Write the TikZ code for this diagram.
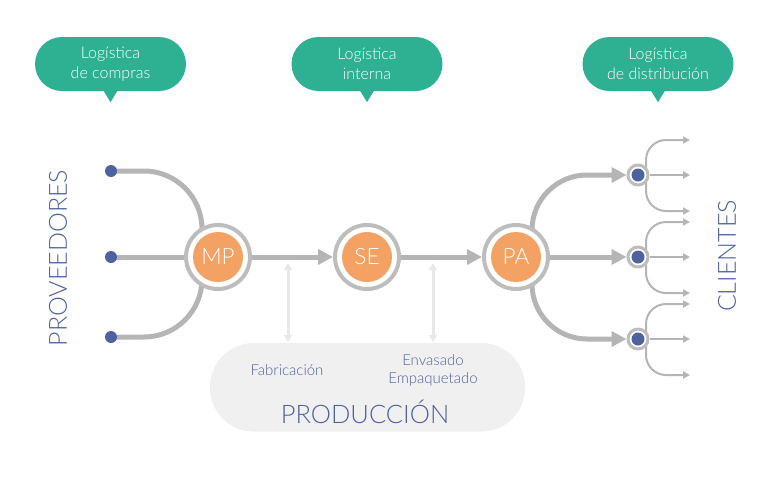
\documentclass[tikz,border=0pt]{standalone}
\usepackage{fontspec}
\setmainfont{Lato}[UprightFont={* Light}]
\usetikzlibrary{arrows.meta,positioning,backgrounds,shadows}
\definecolor{bubblecol}{HTML}{2EB192}
\definecolor{inkblue}{HTML}{4F62A0}
\definecolor{corecol}{HTML}{F4A263}
\definecolor{flowgray}{HTML}{B5B5B5}
\definecolor{ringgray}{HTML}{BDBDBD}
\definecolor{boxgray}{HTML}{F0F0F0}
\definecolor{linkgray}{HTML}{E8E8E8}
\tikzset{
  bubble/.style={rounded corners=27pt, fill=bubblecol, text=white, align=center,
                 minimum width=151pt, minimum height=54pt, inner sep=0pt,
                 font=\fontsize{16}{19.5}\selectfont},
  hub/.style={circle, draw=ringgray, line width=4pt, fill=white, minimum size=64pt,
              inner sep=0pt, text=white, font=\fontsize{22.5}{22.5}\selectfont,
              path picture={\fill[corecol] (path picture bounding box.center) circle (25pt);}},
  src/.style={circle, fill=inkblue, minimum size=12pt, inner sep=0pt},
  sink/.style={circle, draw=ringgray, line width=3pt, fill=white, minimum size=20pt,
               inner sep=0pt,
               path picture={\fill[inkblue] (path picture bounding box.center) circle (6.5pt);}},
  flow/.style={draw=flowgray, line width=5pt},
  mainarr/.style={flow, -{Triangle[length=15pt,width=15pt]}},
  fanarr/.style={draw=flowgray, line width=2pt, -{Triangle[length=7pt,width=7pt]}},
  linkarr/.style={draw=linkgray, line width=3pt,
                  {Triangle[length=7pt,width=8pt]}-{Triangle[length=7pt,width=8pt]}},
  prodbox/.style={rounded corners=43.5pt, fill=boxgray, minimum width=315pt,
                  minimum height=87pt,
                  drop shadow={shadow xshift=0pt, shadow yshift=-1.5pt, opacity=0.12}},
  sidelabel/.style={text=inkblue, rotate=90, font=\fontsize{25}{25}\selectfont},
  steplabel/.style={text=inkblue, align=center, font=\fontsize{15}{18}\selectfont},
}

\begin{document}
\begin{tikzpicture}[x=1pt, y=-1pt, line cap=butt, line join=round]
\useasboundingbox (0,0) rectangle (767,483);

% ===================== callouts =====================
\node[bubble] (b1) at (110.5,64) {Logística\\de compras};
\node[bubble] (b2) at (367,64) {Logística\\interna};
\node[bubble] (b3) at (658,64) {Logística\\de distribución};
\foreach \b in {b1,b2,b3}{
  \fill[bubblecol] ([xshift=-7pt,yshift=0.5pt]\b.south) -- ([xshift=7pt,yshift=0.5pt]\b.south)
    -- ([yshift=-11pt]\b.south) -- cycle;}

% ===================== production box =====================
\node[prodbox] (prod) at (367.5,386.5) {};
\node[steplabel] (fab) at (287,370) {Fabricación};
\node[steplabel] (env) at (433,370) {Envasado\\Empaquetado};
\node[steplabel, font=\fontsize{25.5}{25.5}\selectfont] (ptitle) at (365,412) {PRODUCCIÓN};

% ===================== flow nodes =====================
\node[src] (p1) at (111,171) {};
\node[src] (p2) at (111,257) {};
\node[src] (p3) at (111,337) {};
\node[hub] (mp) at (218,257) {MP};
\node[hub] (se) at (367,257) {SE};
\node[hub] (pa) at (516,257) {PA};
\node[sink] (c1) at (638,175) {};
\node[sink] (c2) at (638,257) {};
\node[sink] (c3) at (638,339) {};
\foreach \c/\y in {1/175,2/257,3/339}{
  \coordinate (f\c a) at (690,\y-35);
  \coordinate (f\c b) at (690,\y);
  \coordinate (f\c c) at (690,\y+36);}
\coordinate (l1t) at (288,263);
\coordinate (l1b) at (288,342);
\coordinate (l2t) at (433,263);
\coordinate (l2b) at (433,342);

\node[sidelabel] (prov) at (58,258) {PROVEEDORES};
\node[sidelabel] (cli) at (727,256) {CLIENTES};

% ===================== connectors =====================
\begin{scope}[on background layer]
  \draw[flow, rounded corners=58pt] (p1.center) -| ([xshift=-16pt]mp.center);
  \draw[flow] (p2.center) -- (mp);
  \draw[flow, rounded corners=58pt] (p3.center) -| ([xshift=-16pt]mp.center);
  \draw[mainarr, rounded corners=55pt] ([xshift=16pt]pa.center) |- (c1);
  \draw[mainarr, rounded corners=55pt] ([xshift=16pt]pa.center) |- (c3);
  \foreach \c in {1,2,3}{
    \draw[fanarr, rounded corners=20pt] ([xshift=8pt]c\c.center) |- (f\c a);
    \draw[fanarr, rounded corners=20pt] ([xshift=8pt]c\c.center) |- (f\c c);}
\end{scope}
\draw[mainarr] (mp) -- (se);
\draw[mainarr] (se) -- (pa);
\draw[mainarr] (pa) -- (c2);
\foreach \c in {1,2,3}{\draw[fanarr] (c\c) -- (f\c b);}
\draw[linkarr] (l1t) -- (l1b);
\draw[linkarr] (l2t) -- (l2b);

\end{tikzpicture}
\end{document}
